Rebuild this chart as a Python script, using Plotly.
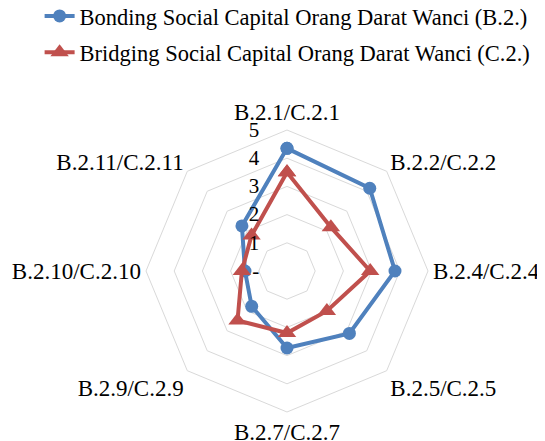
import plotly.graph_objects as go

categories = ["B.2.1/C.2.1", "B.2.2/C.2.2", "B.2.4/C.2.4", "B.2.5/C.2.5",
              "B.2.7/C.2.7", "B.2.9/C.2.9", "B.2.10/C.2.10", "B.2.11/C.2.11"]
bonding = [4.35, 4.15, 3.83, 3.13, 2.73, 1.77, 1.49, 2.26]
bridging = [3.5, 2.2, 2.95, 2.0, 2.2, 2.48, 1.6, 1.78]
tick_vals = [0, 1, 2, 3, 4, 5]
tick_text = ["-", "1", "2", "3", "4", "5"]

FONT = "Liberation Serif"
BLUE = "#4F81BD"
RED = "#C0504D"

def closed(v):
    return v + v[:1]

fig = go.Figure()
fig.add_trace(go.Scatterpolar(
    r=closed(bonding), theta=closed(categories), mode="lines+markers",
    name="Bonding Social Capital Orang Darat Wanci (B.2.)",
    line=dict(color=BLUE, width=4), marker=dict(symbol="circle", size=13, color=BLUE),
    legendgroup="a"))
fig.add_trace(go.Scatterpolar(
    r=closed(bridging), theta=closed(categories), mode="lines+markers",
    name="Bridging Social Capital Orang Darat Wanci (C.2.)",
    line=dict(color=RED, width=4), marker=dict(symbol="triangle-up", size=16, color=RED),
    legendgroup="b"))

W, H = 545, 441
OFF = 8  # page body margin
cx, cy, R = 287 - OFF, 271 - OFF, 141
fig.update_layout(
    width=W, height=H,
    margin=dict(l=0, r=0, t=0, b=0, autoexpand=False),
    paper_bgcolor="white", plot_bgcolor="white",
    font=dict(family=FONT, size=21, color="black"),
    polar=dict(
        domain=dict(x=[(cx - R) / W, (cx + R) / W], y=[(H - cy - R) / H, (H - cy + R) / H]),
        gridshape="linear",
        bgcolor="white",
        radialaxis=dict(range=[0, 5], tickvals=tick_vals, ticktext=tick_text,
                        angle=90, tickangle=90, side="counterclockwise",
                        showline=False, ticks="outside", ticklen=20,
                        tickcolor="rgba(0,0,0,0)",
                        gridcolor="#D9D9D9", gridwidth=1,
                        tickfont=dict(family=FONT, size=21)),
        angularaxis=dict(rotation=90, direction="clockwise", showgrid=False,
                         showline=True, linecolor="#D9D9D9", linewidth=1, ticks="",
                         tickfont=dict(family=FONT, size=23)),
    ),
    legend=dict(x=0.058, y=1.03, xanchor="left", yanchor="top",
                font=dict(family=FONT, size=22.5), tracegroupgap=4,
                bgcolor="rgba(0,0,0,0)"),
)
fig.write_html("out.html")
